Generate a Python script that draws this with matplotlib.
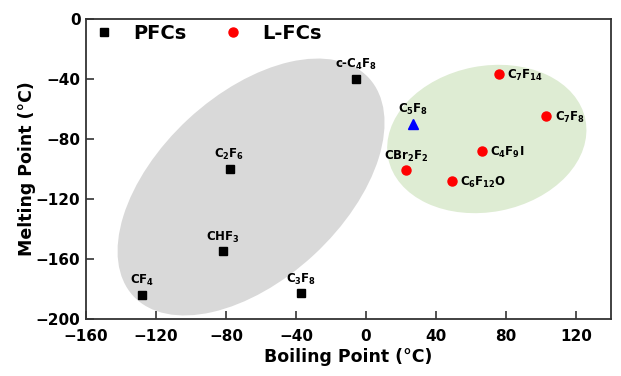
import matplotlib
matplotlib.use("Agg")
import matplotlib.pyplot as plt
import matplotlib.transforms as mtransforms
from matplotlib.patches import Ellipse

plt.rcParams['font.family'] = ['DejaVu Sans']
plt.rcParams['font.weight'] = 'bold'
plt.rcParams['mathtext.default'] = 'bf'

# PFCs (black squares)
pfc_names = [r'CF$_4$', r'CHF$_3$', r'C$_2$F$_6$', r'C$_3$F$_8$', r'c-C$_4$F$_8$']
pfc_bp = [-128, -82, -78, -37, -6]
pfc_mp = [-184, -155, -100, -183, -40]

# L-FCs (red circles)
lfc_names = [r'C$_7$F$_{14}$', r'C$_7$F$_8$', r'C$_4$F$_9$I', r'CBr$_2$F$_2$', r'C$_6$F$_{12}$O']
lfc_bp = [76, 103, 66, 23, 49]
lfc_mp = [-37, -65, -88, -101, -108]
lfc_side = ['right', 'right', 'right', 'top', 'right']

# C5F8 (blue triangle)
c5_name = r'C$_5$F$_8$'
c5_bp = [27]
c5_mp = [-70]

fig = plt.figure(figsize=(6.21, 3.76), dpi=100)
ax = fig.add_axes([0.1385, 0.1516, 0.8455, 0.7979])
ax.set_xlim(-160, 140)
ax.set_ylim(-200, 0)

# shaded groups (sizes in inches, centred on data points)
def group_ellipse(cx, cy, w, h, angle, color):
    tr = fig.dpi_scale_trans + mtransforms.ScaledTranslation(cx, cy, ax.transData)
    e = Ellipse((0, 0), w, h, angle=angle, transform=tr, facecolor=color,
                edgecolor='none', zorder=0)
    ax.add_patch(e)

group_ellipse(-65.7, -112, 3.21, 1.85, 42.8, '#d9d9d9')
group_ellipse(69, -80, 2.01, 1.46, 11, '#deecd3')

ax.plot(pfc_bp, pfc_mp, 's', color='black', markersize=6, linestyle='none',
        label='PFCs', zorder=3)
ax.plot(lfc_bp, lfc_mp, 'o', color='#ff0000', markersize=6.5, linestyle='none',
        label='L-FCs', zorder=3)
ax.plot(c5_bp, c5_mp, '^', color='#0000ff', markersize=7, linestyle='none', zorder=3)

fs = 8.5
for name, x, y in zip(pfc_names, pfc_bp, pfc_mp):
    ax.annotate(name, (x, y), xytext=(0, 5), textcoords='offset points',
                ha='center', va='bottom', fontsize=fs, fontweight='bold')
for name, x, y, side in zip(lfc_names, lfc_bp, lfc_mp, lfc_side):
    if side == 'top':
        ax.annotate(name, (x, y), xytext=(0, 5), textcoords='offset points',
                    ha='center', va='bottom', fontsize=fs, fontweight='bold')
    else:
        ax.annotate(name, (x, y), xytext=(6, -1), textcoords='offset points',
                    ha='left', va='center', fontsize=fs, fontweight='bold')
ax.annotate(c5_name, (c5_bp[0], c5_mp[0]), xytext=(0, 5), textcoords='offset points',
            ha='center', va='bottom', fontsize=fs, fontweight='bold')

ax.set_xticks([-160, -120, -80, -40, 0, 40, 80, 120])
ax.set_yticks([0, -40, -80, -120, -160, -200])
ax.tick_params(direction='in', length=6, width=1.2, labelsize=11, colors='#333333',
               labelcolor='black', top=False, right=False)
ax.tick_params(axis='x', pad=7)
ax.tick_params(axis='y', pad=4)
for lab in ax.get_xticklabels() + ax.get_yticklabels():
    lab.set_fontweight('bold')
for sp in ax.spines.values():
    sp.set_color('#333333')
    sp.set_linewidth(1.3)

ax.set_xlabel('Boiling Point (°C)', fontsize=12.5, fontweight='bold', labelpad=3)
ax.set_ylabel('Melting Point (°C)', fontsize=12.5, fontweight='bold', labelpad=0)

ax.legend(loc='upper left', ncol=2, frameon=False, bbox_to_anchor=(-0.01, 1.03),
          prop={'weight': 'bold', 'size': 14}, handlelength=1.0, handletextpad=1.0,
          columnspacing=1.9, borderaxespad=0.3)

fig.savefig('out.png', dpi=100)
